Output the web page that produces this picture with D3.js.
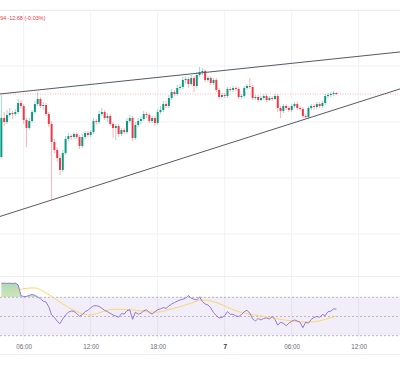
<!DOCTYPE html>
<html>
<head>
<meta charset="utf-8">
<script src="https://cdn.jsdelivr.net/npm/d3@7"></script>
<style>
  html, body { margin: 0; padding: 0; background: #fff; }
  svg { display: block; font-family: 'Liberation Sans', Arial, sans-serif; }
</style>
</head>
<body>
<div class="chart"></div>
<script>
// 15 minute candles, first one at 04:00
const START = '2025-01-06 04:00'
const STEP_MIN = 15

const opens = [
  42243, 42282, 42278, 42285, 42287, 42286, 42288, 42297, 42294, 42280,
  42272, 42279, 42288, 42296, 42301, 42294, 42295, 42286, 42276, 42258,
  42250, 42242, 42230, 42247, 42261, 42264, 42263, 42266, 42263, 42254,
  42263, 42267, 42265, 42268, 42279, 42278, 42286, 42288, 42282, 42284,
  42276, 42272, 42274, 42266, 42270, 42268, 42279, 42282, 42262, 42275,
  42279, 42281, 42286, 42285, 42279, 42282, 42277, 42288, 42290, 42296,
  42294, 42302, 42308, 42306, 42312, 42313, 42320, 42321, 42316, 42322,
  42314, 42325, 42328, 42329, 42320, 42322, 42317, 42320, 42310, 42303,
  42305, 42304, 42311, 42310, 42312, 42311, 42303, 42304, 42312, 42314,
  42313, 42302, 42303, 42300, 42302, 42304, 42300, 42302, 42301, 42304,
  42292, 42289, 42294, 42292, 42290, 42294, 42296, 42292, 42291, 42284,
  42283, 42292, 42294, 42293, 42296, 42294, 42297, 42304, 42305, 42306,
  42307
]
const highs = [
  42305, 42288, 42290, 42292, 42289, 42291, 42301, 42300, 42296, 42282,
  42282, 42290, 42299, 42308, 42303, 42298, 42297, 42288, 42279, 42261,
  42253, 42245, 42250, 42264, 42267, 42266, 42268, 42268, 42265, 42266,
  42269, 42269, 42270, 42282, 42281, 42289, 42292, 42290, 42287, 42286,
  42278, 42276, 42276, 42272, 42272, 42282, 42285, 42284, 42278, 42282,
  42284, 42289, 42288, 42287, 42284, 42284, 42291, 42294, 42299, 42299,
  42305, 42311, 42310, 42315, 42316, 42323, 42324, 42323, 42325, 42324,
  42328, 42333, 42332, 42331, 42324, 42324, 42322, 42322, 42312, 42307,
  42307, 42313, 42313, 42314, 42314, 42313, 42306, 42314, 42316, 42322,
  42315, 42305, 42305, 42304, 42306, 42306, 42304, 42304, 42306, 42306,
  42294, 42296, 42296, 42294, 42296, 42298, 42298, 42294, 42293, 42286,
  42294, 42296, 42296, 42298, 42298, 42299, 42306, 42307, 42308, 42309,
  42308
]
const lows = [
  42242, 42274, 42276, 42283, 42281, 42284, 42286, 42291, 42276, 42253,
  42270, 42277, 42286, 42294, 42292, 42290, 42284, 42273, 42200, 42247,
  42238, 42225, 42228, 42245, 42259, 42260, 42261, 42261, 42251, 42252,
  42261, 42263, 42263, 42266, 42275, 42276, 42284, 42280, 42278, 42274,
  42262, 42260, 42263, 42264, 42266, 42266, 42277, 42259, 42260, 42273,
  42276, 42279, 42282, 42277, 42277, 42274, 42275, 42286, 42288, 42292,
  42292, 42300, 42304, 42304, 42310, 42311, 42317, 42312, 42314, 42308,
  42312, 42323, 42325, 42318, 42318, 42315, 42315, 42308, 42301, 42302,
  42302, 42302, 42308, 42308, 42309, 42301, 42301, 42302, 42310, 42311,
  42300, 42300, 42298, 42299, 42300, 42298, 42299, 42299, 42300, 42288,
  42282, 42287, 42290, 42288, 42288, 42292, 42290, 42289, 42282, 42281,
  42281, 42290, 42290, 42291, 42292, 42292, 42295, 42302, 42303, 42304,
  42305
]
const closes = [
  42282, 42278, 42285, 42287, 42286, 42288, 42297, 42294, 42280, 42272,
  42279, 42288, 42296, 42301, 42294, 42295, 42286, 42276, 42258, 42250,
  42242, 42230, 42247, 42261, 42264, 42263, 42266, 42263, 42254, 42263,
  42267, 42265, 42268, 42279, 42278, 42286, 42288, 42282, 42284, 42276,
  42272, 42274, 42266, 42270, 42268, 42279, 42282, 42262, 42275, 42279,
  42281, 42286, 42285, 42279, 42282, 42277, 42288, 42290, 42296, 42294,
  42302, 42308, 42306, 42312, 42313, 42320, 42321, 42316, 42322, 42314,
  42325, 42328, 42329, 42320, 42322, 42317, 42320, 42310, 42303, 42305,
  42304, 42311, 42310, 42312, 42311, 42303, 42304, 42312, 42314, 42313,
  42302, 42303, 42300, 42302, 42304, 42300, 42302, 42301, 42304, 42292,
  42289, 42294, 42292, 42290, 42294, 42296, 42292, 42291, 42284, 42283,
  42292, 42294, 42293, 42296, 42294, 42297, 42304, 42305, 42306, 42307,
  42306
]

// RSI, one value per candle
const rsi = [
  84.6, 84.8, 84.5, 84.7, 84.4, 84.8, 83, 72, 70.5, 71,
  72, 73, 72, 70.5, 68.5, 66, 65, 60, 51.6, 49,
  45, 42.5, 47.5, 51.5, 54.5, 55.7, 55.3, 53, 50.3, 52,
  55, 56.5, 59, 61, 61.3, 60.5, 58.5, 56.5, 55, 53.3,
  51.6, 50.5, 49.2, 53, 52.5, 56, 57, 47, 54.5, 52.5,
  53.3, 56, 57, 54, 52.5, 55, 57, 58, 59.2, 58.5,
  61, 63, 64.5, 66, 67.2, 68, 69, 72, 69, 68,
  67.2, 70.5, 65.5, 63, 62, 59, 54, 51, 48.5, 49,
  51, 55, 52.3, 52.3, 50.5, 50, 52, 55, 56.5, 53.3,
  47.5, 45.3, 48, 46.4, 48, 48.5, 47.4, 50, 47, 41,
  44, 43, 40.4, 43, 45, 46.4, 45.3, 44, 38.3, 44,
  43, 47, 49, 50, 49.2, 52, 51, 55, 55.5, 57.8,
  57.8
]
// RSI moving average, read once per hour (every 4th candle)
const RSI_MA_EVERY = 4
const rsiMa = [
  70.5, 75, 79, 79.8, 74.5, 67, 59.5, 54, 51.6, 54.8,
  57.5, 57.5, 56.5, 55, 54.5, 57.2, 60.2, 64, 67.2, 65.5,
  61, 56, 53, 51, 49.3, 47, 45.5, 44.4, 44.5, 47,
  50.5
]

const timeTicks = ['2025-01-06 06:00', '2025-01-06 12:00', '2025-01-06 18:00',
  '2025-01-07 00:00', '2025-01-07 06:00', '2025-01-07 12:00']
const priceGrid = [42390, 42334, 42278, 42222, 42166]
const rsiBands = [70, 50, 30]

// trendlines, anchored on [candle index, price]
const upperTrend = [[13, 42310], [71, 42327]]
const lowerTrend = [[18, 42200], [109, 42281]]

// header: only the tail of the last price is visible at the left edge
const lastLabel = '94'
const changeLabel = '-12.68 (-0.03%)'

const UP = '#089981'
const DOWN = '#f23645'
const GRID = '#f0f2f7'
const RSI_COLOR = '#8a6bcf'
const MA_COLOR = '#f6d96b'

const W = 400
const H = 370
const MAIN_TOP = 10
const MAIN_BOTTOM = 276
const RSI_BOTTOM = 340

const parse = d3.timeParse('%Y-%m-%d %H:%M')
const start = parse(START)
const timeOf = i => new Date(start.getTime() + i * STEP_MIN * 60000)
const candles = closes.map((c, i) => ({
  t: timeOf(i), o: opens[i], h: highs[i], l: lows[i], c
}))

const svg = d3.select('.chart').append('svg')
  .attr('width', W)
  .attr('height', H)

const x = d3.scaleTime()
  .domain([parse(timeTicks[0]), parse(timeTicks[timeTicks.length - 1])])
  .range([23.7, 358.7])
const y = d3.scaleLinear()
  .domain([42124, 42400])
  .range([MAIN_BOTTOM, 0])
const ry = d3.scaleLinear()
  .domain([30, 70])
  .range([335.7, 297.3])

const defs = svg.append('defs')
defs.append('clipPath').attr('id', 'main-clip')
  .append('rect')
  .attr('x', 0).attr('y', MAIN_TOP)
  .attr('width', W).attr('height', MAIN_BOTTOM - MAIN_TOP)
defs.append('clipPath').attr('id', 'ob-clip')
  .append('rect')
  .attr('x', 0).attr('y', MAIN_BOTTOM)
  .attr('width', W).attr('height', ry(70) - MAIN_BOTTOM)
const grad = defs.append('linearGradient')
  .attr('id', 'ob-grad')
  .attr('x1', 0).attr('y1', 0).attr('x2', 0).attr('y2', 1)
grad.append('stop').attr('offset', '0%').attr('stop-color', '#4caf50').attr('stop-opacity', 0.45)
grad.append('stop').attr('offset', '100%').attr('stop-color', '#4caf50').attr('stop-opacity', 0.03)

// grid
const tickDates = timeTicks.map(parse)
svg.append('g')
  .selectAll('line')
  .data(tickDates)
  .join('line')
  .attr('x1', d => x(d)).attr('x2', d => x(d))
  .attr('y1', MAIN_TOP).attr('y2', RSI_BOTTOM)
  .attr('stroke', GRID)
  .attr('stroke-width', 1)
svg.append('g')
  .selectAll('line')
  .data(priceGrid)
  .join('line')
  .attr('x1', 0).attr('x2', W)
  .attr('y1', d => y(d)).attr('y2', d => y(d))
  .attr('stroke', GRID)
  .attr('stroke-width', 1)

// panel separators
const sep = [MAIN_TOP, MAIN_BOTTOM, 354]
svg.append('g')
  .selectAll('line')
  .data(sep)
  .join('line')
  .attr('x1', 0).attr('x2', W)
  .attr('y1', d => d + 0.5).attr('y2', d => d + 0.5)
  .attr('stroke', '#eceef3')

// header
svg.append('text')
  .attr('x', 0.3).attr('y', 19.5)
  .attr('font-size', 5.5)
  .attr('fill', DOWN)
  .text(lastLabel)
svg.append('text')
  .attr('x', 7.3).attr('y', 19.5)
  .attr('font-size', 5.5)
  .attr('fill', DOWN)
  .text(changeLabel)

const main = svg.append('g').attr('clip-path', 'url(#main-clip)')

// last price line
main.append('line')
  .attr('x1', 0).attr('x2', W)
  .attr('y1', y(closes[closes.length - 1])).attr('y2', y(closes[closes.length - 1]))
  .attr('stroke', DOWN)
  .attr('stroke-opacity', 0.45)
  .attr('stroke-dasharray', '1,1.5')
  .attr('stroke-width', 0.8)

// candles
const step = x(timeOf(1)) - x(timeOf(0))
const bodyW = step * 0.7
const candleG = main.append('g')
  .selectAll('g')
  .data(candles)
  .join('g')
candleG.append('line')
  .attr('x1', d => x(d.t)).attr('x2', d => x(d.t))
  .attr('y1', d => y(d.h)).attr('y2', d => y(d.l))
  .attr('stroke', d => d.c >= d.o ? UP : DOWN)
  .attr('stroke-opacity', 0.55)
  .attr('stroke-width', 0.7)
candleG.append('rect')
  .attr('x', d => x(d.t) - bodyW / 2)
  .attr('width', bodyW)
  .attr('y', d => y(Math.max(d.o, d.c)))
  .attr('height', d => Math.max(0.8, Math.abs(y(d.o) - y(d.c))))
  .attr('fill', d => d.c >= d.o ? UP : DOWN)

// trendlines, extended across the whole width
const indexAt = px => (x.invert(px) - start) / (STEP_MIN * 60000)
const trendPath = ([[i1, p1], [i2, p2]]) => {
  const priceAt = i => p1 + (p2 - p1) * (i - i1) / (i2 - i1)
  return [0, W].map(px => [px, y(priceAt(indexAt(px)))])
}
;[upperTrend, lowerTrend].forEach(t => {
  main.append('path')
    .attr('d', d3.line()(trendPath(t)))
    .attr('fill', 'none')
    .attr('stroke', '#555962')
    .attr('stroke-width', 1)
})

// RSI panel
svg.append('rect')
  .attr('x', 0).attr('width', W)
  .attr('y', ry(70)).attr('height', ry(30) - ry(70))
  .attr('fill', 'rgba(126, 87, 194, 0.1)')
svg.append('g')
  .selectAll('line')
  .data(rsiBands)
  .join('line')
  .attr('x1', 0).attr('x2', W)
  .attr('y1', d => ry(d)).attr('y2', d => ry(d))
  .attr('stroke', '#a9a6b6')
  .attr('stroke-width', 0.8)
  .attr('stroke-dasharray', '2,2')

svg.append('path')
  .datum(rsi)
  .attr('clip-path', 'url(#ob-clip)')
  .attr('fill', 'url(#ob-grad)')
  .attr('d', d3.area()
    .x((d, i) => x(timeOf(i)))
    .y0(ry(70))
    .y1(d => ry(d)))

svg.append('path')
  .datum(rsiMa)
  .attr('fill', 'none')
  .attr('stroke', MA_COLOR)
  .attr('stroke-width', 1)
  .attr('d', d3.line()
    .curve(d3.curveMonotoneX)
    .x((d, i) => x(timeOf(i * RSI_MA_EVERY)))
    .y(d => ry(d)))

svg.append('path')
  .datum(rsi)
  .attr('fill', 'none')
  .attr('stroke', RSI_COLOR)
  .attr('stroke-width', 0.9)
  .attr('stroke-linejoin', 'round')
  .attr('d', d3.line()
    .x((d, i) => x(timeOf(i)))
    .y(d => ry(d)))

// time axis
const fmtHour = d3.timeFormat('%H:%M')
const fmtDay = d3.timeFormat('%-d')
const isMidnight = d => d.getHours() === 0 && d.getMinutes() === 0
const axis = svg.append('g')
  .attr('transform', `translate(0, ${RSI_BOTTOM + 2})`)
  .call(d3.axisBottom(x)
    .tickValues(tickDates)
    .tickSize(0)
    .tickPadding(3)
    .tickFormat(d => isMidnight(d) ? fmtDay(d) : fmtHour(d)))
axis.select('.domain').remove()
axis.selectAll('text')
  .attr('font-family', "'Liberation Sans', Arial, sans-serif")
  .attr('font-size', 6.3)
  .attr('fill', d => isMidnight(d) ? '#2a2e39' : '#6a6d78')
  .attr('font-weight', d => isMidnight(d) ? 'bold' : null)
</script>
</body>
</html>
